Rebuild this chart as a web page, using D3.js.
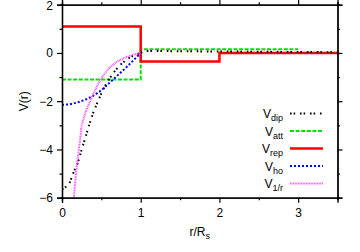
<!DOCTYPE html>
<html><head><meta charset="utf-8">
<script src="https://cdn.jsdelivr.net/npm/d3@7"></script>
<style>
body{margin:0;background:#fff;}
text{font-family:"Liberation Sans",Arial,sans-serif;fill:#000;}
</style></head>
<body>
<svg id="c" width="360" height="252"></svg>
<script>
// ---- data ----
const xTicks = [0, 1, 2, 3];
const xMinor = [0.5, 1.5, 2.5, 3.5];
const yTicks = [-6, -4, -2, 0, 2];
const yMinor = [-5, -3, -1, 1];

const rDip = [0, 0.05, 0.1, 0.15, 0.2, 0.25, 0.3, 0.35, 0.4, 0.45, 0.5, 0.55, 0.6, 0.65, 0.7, 0.75, 0.8, 0.85, 0.9, 0.95, 1.0, 1.05, 1.25, 1.5, 2, 2.5, 3, 3.5];
const vDip = [-5.66, -5.55, -5.36, -4.92, -4.57, -4.0, -3.48, -2.93, -2.45, -2.05, -1.68, -1.35, -1.08, -0.84, -0.64, -0.47, -0.33, -0.21, -0.12, -0.05, 0.0, 0.08, 0.08, 0.07, 0.06, 0.05, 0.04, 0.03];

const rAtt = [0, 1, 1, 3];
const vAtt = [-1.1, -1.1, 0.15, 0.15];

const rRep = [0, 1, 1, 2, 2, 3.5];
const vRep = [1.1, 1.1, -0.35, -0.35, 0, 0];

const rHo = [0, 0.1, 0.2, 0.3, 0.4, 0.5, 0.6, 0.7, 0.8, 0.9, 1.0];
const vHo = [-2.15, -2.13, -2.05, -1.93, -1.77, -1.55, -1.25, -0.95, -0.65, -0.33, 0.0];

const rInv = [0.15, 0.16, 0.18, 0.2, 0.22, 0.25, 0.3, 0.35, 0.4, 0.45, 0.5, 0.6, 0.7, 0.8, 0.9, 1.0];
const vInv = [-6.05, -5.6, -4.95, -4.35, -3.85, -3.0, -2.45, -2.05, -1.68, -1.35, -1.05, -0.62, -0.36, -0.19, -0.08, 0.0];

const legendMain = ["V", "V", "V", "V", "V"];
const legendSub = ["dip", "att", "rep", "ho", "1/r"];

// ---- layout ----
const svg = d3.select("#c");
const L = 62, R = 337.5, T = 4.7, B = 197.7;
const x = d3.scaleLinear().domain([0, 3.5]).range([L, R]);
const y = d3.scaleLinear().domain([-6, 2]).range([B, T]);

svg.append("clipPath").attr("id","clip").append("rect")
  .attr("x", L).attr("y", T).attr("width", R - L).attr("height", B - T);

const styles = [
  {color:"#000000", width:2, dash:"1.6,2,1.6,4.8"},
  {color:"#00e000", width:2, dash:"4,1.6"},
  {color:"#ff0000", width:2.5, dash:null},
  {color:"#0000ff", width:2, dash:"2,2"},
  {color:"#ff33ff", width:2, dash:"0.8,0.8"}
];
const series = [[rDip, vDip], [rAtt, vAtt], [rRep, vRep], [rHo, vHo], [rInv, vInv]];

const line = d3.line().x(d => x(d[0])).y(d => y(d[1]));
const g = svg.append("g").attr("clip-path", "url(#clip)");
const order = [1, 2, 0, 3, 4];
order.forEach(i => {
  const pts = series[i][0].map((r, k) => [r, series[i][1][k]]);
  const p = g.append("path").attr("d", line(pts)).attr("fill", "none")
    .attr("stroke", styles[i].color).attr("stroke-width", styles[i].width);
  if (styles[i].dash) p.attr("stroke-dasharray", styles[i].dash);
});

// ---- axes ----
const ax = svg.append("g");
ax.append("g").attr("transform", `translate(0,${B})`)
  .call(d3.axisBottom(x).tickValues(xTicks).tickSize(5).tickPadding(6).tickFormat(d3.format("d")));
ax.append("g").attr("transform", `translate(0,${B})`)
  .call(d3.axisBottom(x).tickValues(xMinor).tickSize(2.5).tickFormat(""));
ax.append("g").attr("transform", `translate(0,${T})`)
  .call(d3.axisTop(x).tickValues(xTicks).tickSize(5).tickFormat(""));
ax.append("g").attr("transform", `translate(0,${T})`)
  .call(d3.axisTop(x).tickValues(xMinor).tickSize(2.5).tickFormat(""));
const yl = ax.append("g").attr("transform", `translate(${L},0)`)
  .call(d3.axisLeft(y).tickValues(yTicks).tickSize(5).tickPadding(4).tickFormat(d3.format("d")));
// keep the top label fully inside the picture
yl.selectAll(".tick text").filter(d => d === 2).attr("y", 1);
ax.append("g").attr("transform", `translate(${L},0)`)
  .call(d3.axisLeft(y).tickValues(yMinor).tickSize(2.5).tickFormat(""));
ax.append("g").attr("transform", `translate(${R},0)`)
  .call(d3.axisRight(y).tickValues(yTicks).tickSize(5).tickFormat(""));
ax.append("g").attr("transform", `translate(${R},0)`)
  .call(d3.axisRight(y).tickValues(yMinor).tickSize(2.5).tickFormat(""));
ax.selectAll(".domain").attr("stroke", "#000").attr("stroke-width", 1.3);
ax.selectAll(".tick line").attr("stroke", "#000").attr("stroke-width", 1.2);
ax.selectAll(".tick text").attr("font-size", 12).attr("font-family", "Liberation Sans, Arial, sans-serif").attr("fill", "#000");

// axis titles
svg.append("text").attr("transform", `translate(28,${(T + B) / 2}) rotate(-90)`)
  .attr("text-anchor", "middle").attr("font-size", 12).text("V(r)");
const xt = svg.append("text").attr("x", (L + R) / 2).attr("y", 236)
  .attr("text-anchor", "middle").attr("font-size", 12);
xt.append("tspan").text("r/R");
xt.append("tspan").attr("font-size", 9).attr("dy", 3).text("s");

// legend
const legY0 = 113.5, legDY = 17.5;
legendSub.forEach((s, i) => {
  const yy = legY0 + i * legDY;
  const t = svg.append("text").attr("x", 283).attr("y", yy + 4.5)
    .attr("text-anchor", "end").attr("font-size", 12);
  t.append("tspan").text(legendMain[i]);
  t.append("tspan").attr("font-size", 9).attr("dy", 3).text(s);
  const p = svg.append("line").attr("x1", 290).attr("x2", 323).attr("y1", yy).attr("y2", yy)
    .attr("stroke", styles[i].color).attr("stroke-width", styles[i].width);
  if (styles[i].dash) p.attr("stroke-dasharray", styles[i].dash);
});
</script>
</body></html>
